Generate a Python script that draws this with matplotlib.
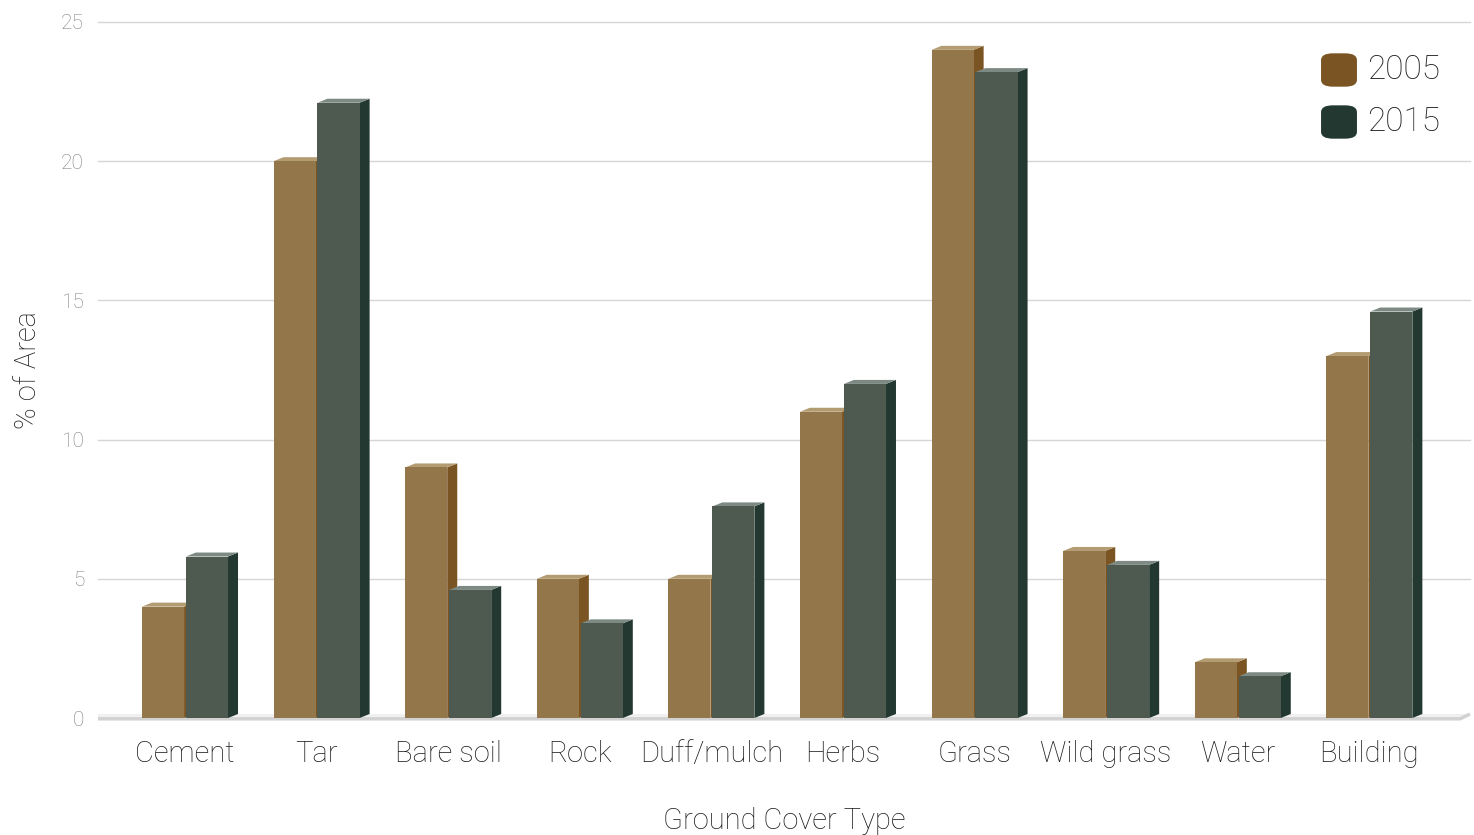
import matplotlib
matplotlib.use('Agg')
import matplotlib.pyplot as plt
from matplotlib.patches import FancyBboxPatch
import numpy as np

# Ground cover data (% of area)
categories = ['Cement', 'Tar', 'Bare soil', 'Rock', 'Duff/mulch', 'Herbs',
              'Grass', 'Wild grass', 'Water', 'Building']
values_2005 = [4.0, 20.0, 9.0, 5.0, 5.0, 11.0, 24.0, 6.0, 2.0, 13.0]
values_2015 = [5.8, 22.1, 4.6, 3.4, 7.6, 12.0, 23.2, 5.5, 1.5, 14.6]
years = ['2005', '2015']

# front, side, top colours per series
colours_2005 = ('#93764a', '#7a5422', '#b39b72')
colours_2015 = ('#4e5950', '#233830', '#7d8a83')
legend_colours = ['#7a5422', '#233830']

plt.rcParams['font.family'] = ['Roboto', 'DejaVu Sans']
plt.rcParams['font.weight'] = 'light'
plt.rcParams['axes.labelweight'] = 'light'

W, H = 1474, 835
fig = plt.figure(figsize=(W / 100, H / 100), dpi=100)
ax = fig.add_axes([98 / W, (H - 718) / H, (1470 - 98) / W, (718 - 22) / H])

xmin, xmax = -0.661, 9.765
ax.set_xlim(xmin, xmax)
ax.set_ylim(0, 25)

# depth of the fake 3D effect, in data units
px_x = (1470 - 98) / (xmax - xmin)
px_y = (718 - 22) / 25
dx, dy = 10 / px_x, 4 / px_y
bw = 0.32
off = 0.167

# gridlines
for g in [5, 10, 15, 20, 25]:
    ax.plot([xmin, xmax], [g, g], color='#d6d6d6', lw=1, zorder=0, clip_on=False)

# floor
ax.fill([xmin, xmax - dx, xmax, xmin], [0, 0, dy, dy], color='#f0f0f0', zorder=0.5, lw=0)
ax.plot([xmin, xmax - dx, xmax], [-0.03, -0.03, dy], color='#d2d2d2', lw=2.5,
        zorder=0.6, clip_on=False, solid_capstyle='butt')


def draw_bar(xc, v, cols):
    front, side, top = cols
    x0, x1 = xc - bw / 2, xc + bw / 2
    ax.fill([x1, x1 + dx, x1 + dx, x1], [0, dy, v + dy, v], color=side, lw=0, zorder=2)
    ax.fill([x0, x0 + dx, x1 + dx, x1], [v, v + dy, v + dy, v], color=top, lw=0, zorder=2)
    ax.bar(xc, v, width=bw, color=front, zorder=2, linewidth=0)


x = np.arange(len(categories))
for i in range(len(categories)):
    draw_bar(x[i] - off, values_2005[i], colours_2005)
    draw_bar(x[i] + off, values_2015[i], colours_2015)

for s in ax.spines.values():
    s.set_visible(False)
ax.set_yticks([0, 5, 10, 15, 20, 25])
ax.set_yticklabels(['0', '5', '10', '15', '20', '25'])
ax.tick_params(axis='y', length=0, pad=10, labelsize=15, labelcolor='#808080')
ax.set_xticks(x)
ax.set_xticklabels(categories)
ax.tick_params(axis='x', length=0, pad=16, labelsize=21, labelcolor='#1e1e1e')

ax.set_ylabel('% of Area', fontsize=21, color='#1e1e1e', labelpad=14)
ax.set_xlabel('Ground Cover Type', fontsize=21, color='#1e1e1e', labelpad=28)

# legend with rounded swatches
for k, (yr, c) in enumerate(zip(years, legend_colours)):
    yc = 70 + k * 52
    sw = FancyBboxPatch((1324 / W, (H - yc - 15) / H), 30 / W, 30 / H,
                        boxstyle='round,pad=0.002,rounding_size=0.008',
                        transform=fig.transFigure, color=c, lw=0)
    fig.patches.append(sw)
    fig.text(1367 / W, (H - yc) / H, yr, fontsize=24, color='#1e1e1e',
             va='center', ha='left')

fig.savefig('out.png', dpi=100)
